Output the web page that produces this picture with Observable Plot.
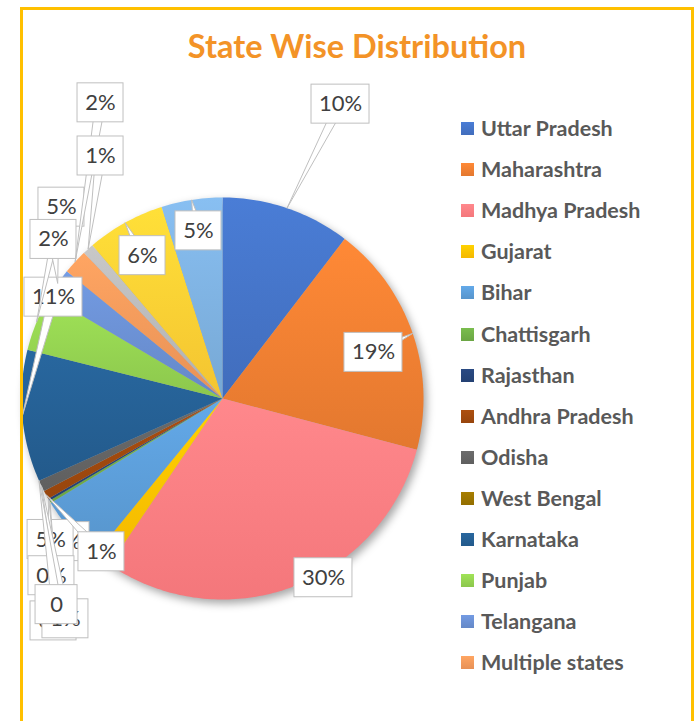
<!DOCTYPE html>
<html>
<head>
<meta charset="utf-8">
<script src="https://cdn.jsdelivr.net/npm/d3@7"></script>
<script src="https://cdn.jsdelivr.net/npm/@observablehq/plot@0.6"></script>
<style>
  html, body { margin: 0; padding: 0; background: #fff; }
  body { width: 698px; height: 721px; overflow: hidden; position: relative; font-family: Lato, "Open Sans", sans-serif; }
  #frame { position: absolute; left: 20px; top: 7px; width: 674px; height: 760px; border: 3px solid #FFC000; box-sizing: border-box; pointer-events: none; z-index: 3; }
  #title { position: absolute; left: 20px; width: 674px; top: 28px; text-align: center; font: bold 32.5px/36px Lato, sans-serif; color: #F39327; white-space: nowrap; z-index: 2; }
  #chart { position: absolute; left: 0; top: 80px; z-index: 1; }
  #legend { position: absolute; left: 0; top: 0; z-index: 2; }
  .lg-row { position: absolute; left: 461px; height: 24px; white-space: nowrap; }
  .lg-sw { position: absolute; left: 0; width: 13px; height: 13px; }
  .lg-tx { position: absolute; left: 20px; top: 0; font: bold 21.5px/24px Lato, sans-serif; color: #595959; }
</style>
</head>
<body>
<div id="frame"></div>
<div id="title">State Wise Distribution</div>
<div id="chart"></div>
<div id="legend"></div>
<script>
// ---- data ----
const states = ["Uttar Pradesh", "Maharashtra", "Madhya Pradesh", "Gujarat", "Bihar", "Chattisgarh",
  "Rajasthan", "Andhra Pradesh", "Odisha", "West Bengal", "Karnataka", "Punjab", "Telangana",
  "Multiple states", "Other A", "Other B", "Other C"];
const shares = [10.4, 18.7, 30.4, 1.4, 5.4, 0.2, 0.2, 0.7, 0.9, 0, 10.6, 4.6, 2.4, 2.0, 0.9, 6.3, 4.9];
const legendCount = 14; // the legend in the reference lists only the first 14 categories

// ---- styles / layout ----
const colors = ["#4472C4", "#ED7D31", "#FF7C80", "#FFC000", "#5B9BD5", "#70AD47", "#264478", "#9E480E",
  "#636363", "#997300", "#255E91", "#92D050", "#698ED0", "#F1975A", "#B7B7B7", "#FFCD33", "#7CAFDD"];
// label offsets (px) from each slice's outer mid-point, as placed in the reference
const labelDx = [53.5, -39.2, 30.5, -35.8, -20.3, 3.4, 2.6, 55.4, 24, 17.5, 31.2, 24.9, -4.2, 25.4, 12.4, 17.4, 6.8];
const labelDy = [-104, 19, -9, -18, 9, 119, 76, 57, 133, 124, -119, -115, -44, -159, -93, 33, 31];

const R = 201, W = 450, H = 580, CX = 222, CY = 318;

const total = d3.sum(shares);
let acc = 0;
const slices = states.map((name, i) => {
  const a0 = acc / total * 2 * Math.PI;
  acc += shares[i];
  const a1 = acc / total * 2 * Math.PI;
  return {name, i, a0, a1, mid: (a0 + a1) / 2, value: shares[i]};
});

const piePts = slices.flatMap(s => {
  if (s.value <= 0) return [];
  const n = Math.max(2, Math.ceil((s.a1 - s.a0) / (Math.PI / 180)));
  const pts = [{name: s.name, x: 0, y: 0}];
  for (let k = 0; k <= n; k++) {
    const a = s.a0 + (s.a1 - s.a0) * k / n;
    pts.push({name: s.name, x: Math.sin(a), y: Math.cos(a)});
  }
  return pts;
});

const labels = slices.map((s, i) => {
  const ax = Math.sin(s.mid), ay = Math.cos(s.mid);
  const lx = ax + labelDx[i] / R, ly = ay - labelDy[i] / R;
  const text = s.value === 0 ? "0" : Math.round(s.value) + "%";
  const w = (text.length >= 3 ? 58 : text.length === 1 ? 42 : 46) / R;
  const h = 39 / R;
  const vx = ax - lx, vy = ay - ly;
  const len = Math.hypot(vx, vy) || 1;
  const px = -vy / len * 5 / R, py = vx / len * 5 / R;
  return {i, text, ax, ay, lx, ly, w, h,
    wedge: [{x: lx + px, y: ly + py}, {x: ax, y: ay}, {x: lx - px, y: ly - py}]};
});

const marks = [
  Plot.line(piePts, {x: "x", y: "y", z: "name", fill: "name", stroke: "name", strokeWidth: 0.5, curve: "linear-closed"}),
  ...labels.flatMap(l => [
    Plot.line(l.wedge, {x: "x", y: "y", fill: "white", stroke: "#bfbfbf", strokeWidth: 1, curve: "linear-closed"}),
    Plot.rect([l], {x1: d => d.lx - d.w / 2, x2: d => d.lx + d.w / 2, y1: d => d.ly - d.h / 2, y2: d => d.ly + d.h / 2,
      fill: "white", stroke: "#bfbfbf", strokeWidth: 1}),
    Plot.text([l], {x: "lx", y: "ly", text: "text", fontSize: 22, fill: "#404040", fontFamily: "Lato, sans-serif"})
  ])
];

const svg = Plot.plot({
  width: W, height: H, margin: 0,
  x: {domain: [-CX / R, (W - CX) / R], axis: null},
  y: {domain: [-(H - CY) / R, CY / R], axis: null},
  color: {domain: states, range: colors},
  style: {background: "transparent", overflow: "visible"},
  marks
});
document.getElementById("chart").appendChild(svg);

// Excel-like shading: vertical gradient per slice and a soft drop shadow
const pieG = svg.querySelector('g[aria-label="line"]');
if (pieG) {
  pieG.style.filter = "drop-shadow(3px 4px 4px rgba(0,0,0,0.35))";
  const ns = "http://www.w3.org/2000/svg";
  const defs = document.createElementNS(ns, "defs");
  svg.insertBefore(defs, svg.firstChild);
  pieG.querySelectorAll("path").forEach((p, k) => {
    const c = p.getAttribute("fill");
    if (!c || c === "none") return;
    const g = document.createElementNS(ns, "linearGradient");
    g.setAttribute("id", "sg" + k);
    g.setAttribute("x1", 0); g.setAttribute("y1", 0); g.setAttribute("x2", 0); g.setAttribute("y2", 1);
    [[0, d3.color(c).brighter(0.25)], [1, d3.color(c).darker(0.12)]].forEach(([o, col]) => {
      const st = document.createElementNS(ns, "stop");
      st.setAttribute("offset", o); st.setAttribute("stop-color", col.formatHex());
      g.appendChild(st);
    });
    defs.appendChild(g);
    p.setAttribute("fill", `url(#sg${k})`);
    p.setAttribute("stroke", "none");
  });
}

// legend (HTML, to the right of the pie)
const legend = document.getElementById("legend");
states.slice(0, legendCount).forEach((s, i) => {
  const row = document.createElement("div");
  row.className = "lg-row";
  row.style.top = (116 + 41.1 * i) + "px";
  const sw = document.createElement("div");
  sw.className = "lg-sw";
  sw.style.top = "6px";
  sw.style.background = `linear-gradient(${d3.color(colors[i]).brighter(0.25).formatHex()}, ${d3.color(colors[i]).darker(0.12).formatHex()})`;
  const tx = document.createElement("div");
  tx.className = "lg-tx";
  tx.textContent = s;
  row.appendChild(sw); row.appendChild(tx);
  legend.appendChild(row);
});
</script>
</body>
</html>
